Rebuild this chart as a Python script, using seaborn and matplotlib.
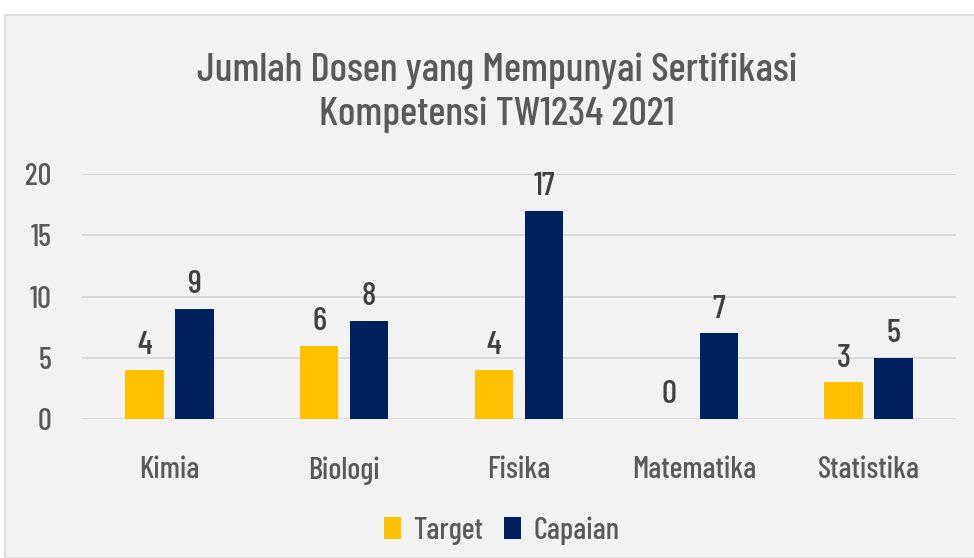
import matplotlib
matplotlib.use("Agg")
import matplotlib.pyplot as plt
import seaborn as sns
import pandas as pd
from matplotlib.patches import Rectangle
from matplotlib import font_manager

categories = ["Kimia", "Biologi", "Fisika", "Matematika", "Statistika"]
target = [4, 6, 4, 0, 3]
capaian = [9, 8, 17, 7, 5]
series_names = ["Target", "Capaian"]
colors = ["#FFC000", "#002060"]
yticks = [0, 5, 10, 15, 20]
title = "Jumlah Dosen yang Mempunyai Sertifikasi\nKompetensi TW1234 2021"

sns.set_theme(style="white")
names = {f.name for f in font_manager.fontManager.ttflist}
fam = [n for n in ["Barlow Condensed", "Barlow Semi Condensed", "Archivo Narrow"] if n in names][:1]
plt.rcParams['font.family'] = fam + ['DejaVu Sans']
plt.rcParams['font.weight'] = 500

df = pd.DataFrame({
    "cat": categories * 2,
    "val": target + capaian,
    "series": [series_names[0]] * len(categories) + [series_names[1]] * len(categories),
})

fig = plt.figure(figsize=(9.74, 5.58), dpi=100, facecolor="white")
bg = Rectangle((5 / 974, 0), 1.0, 1 - 15 / 558, transform=fig.transFigure,
               facecolor="#F2F2F2", edgecolor="#D9D9D9", linewidth=1.2, zorder=-10)
fig.patches.append(bg)

ax = fig.add_axes([82 / 974, 1 - 419 / 558, (956 - 82) / 974, (419 - 174) / 558])
ax.set_facecolor("none")
ax.patch.set_alpha(0)
sns.barplot(data=df, x="cat", y="val", hue="series", palette=colors,
            width=0.571, gap=0.23, ax=ax, legend=True, saturation=1,
            linewidth=0, edgecolor="none")

ax.set_ylim(0, 20)
ax.set_xlim(-0.5, 4.5)
ax.set_yticks(yticks)
ax.set_xlabel("")
ax.set_ylabel("")
ax.yaxis.grid(True, color="#D9D9D9", linewidth=1.3)
ax.set_axisbelow(True)
for s in ax.spines.values():
    s.set_visible(False)
ax.tick_params(axis="both", length=0, labelsize=22, labelcolor="#595959")
ax.tick_params(axis="x", pad=27)
ax.tick_params(axis="y", pad=22)

for cont in ax.containers:
    ax.bar_label(cont, fmt="%d", padding=7, fontsize=24, color="#404040")

leg = ax.legend(loc="upper center", bbox_to_anchor=(0.48, -0.285), ncol=2,
                frameon=False, fontsize=22, handlelength=0.55, handleheight=0.75,
                handletextpad=0.4, columnspacing=0.7)
for t in leg.get_texts():
    t.set_color("#595959")

fig.text(0.51, 1 - 93 / 558, title, ha="center", va="center", fontsize=29.5,
         color="#595959", linespacing=1.25)

fig.savefig("out.png", dpi=100, facecolor=fig.get_facecolor())
